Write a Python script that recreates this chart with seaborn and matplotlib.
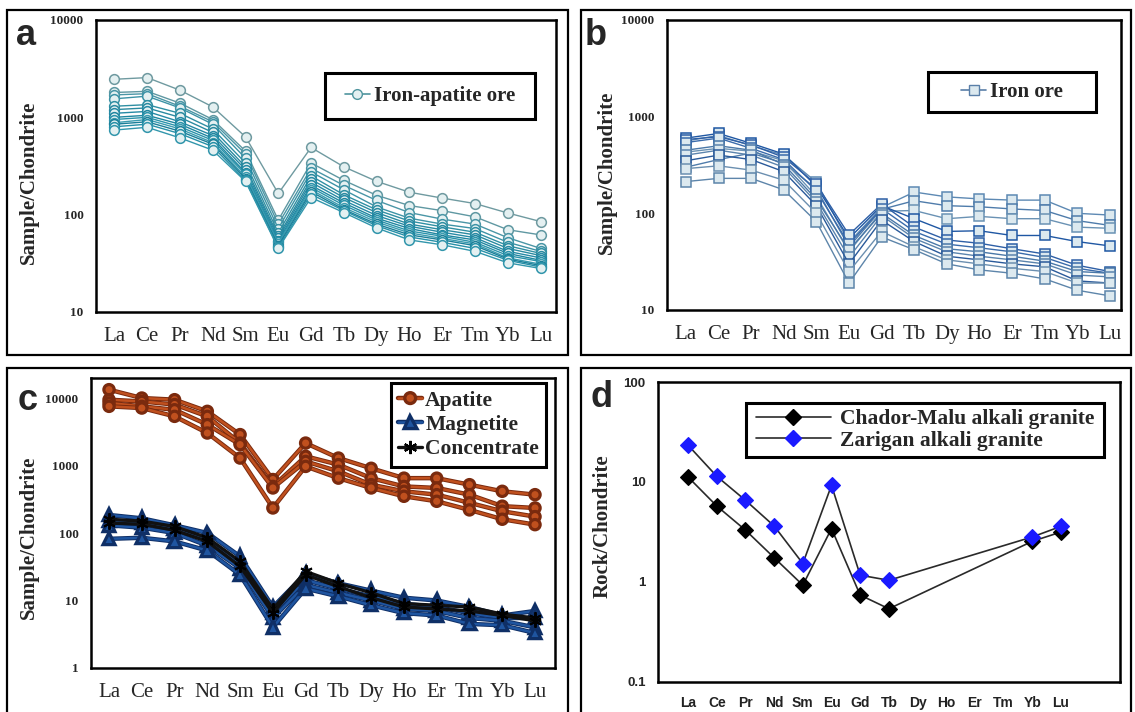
import numpy as np
import pandas as pd
import matplotlib
matplotlib.use("Agg")
import matplotlib.pyplot as plt
import matplotlib.patheffects as pe
from matplotlib.lines import Line2D
from matplotlib.patches import Rectangle
from matplotlib.ticker import NullLocator
import seaborn as sns

ELEMENTS = ["La", "Ce", "Pr", "Nd", "Sm", "Eu", "Gd", "Tb", "Dy", "Ho", "Er", "Tm", "Yb", "Lu"]
nan = np.nan

# a: iron-apatite ore samples
IRON_APATITE_ORE = [
    [2460, 2560, 1900, 1280, 630, 165, 490, 310, 220, 170, 148, 130, 104, 85],
    [1800, 1850, 1400, 950, 450, 88, 340, 225, 158, 124, 110, 95, 70, 62],
    [1700, 1750, 1300, 900, 420, 80, 300, 200, 140, 105, 90, 80, 58, 45],
    [1550, 1650, 1250, 850, 380, 72, 275, 180, 120, 92, 80, 72, 52, 42],
    [1300, 1350, 1100, 760, 340, 65, 250, 160, 112, 86, 75, 66, 48, 40],
    [1200, 1250, 1000, 700, 310, 60, 230, 150, 105, 80, 70, 62, 45, 38],
    [1100, 1150, 900, 650, 290, 57, 215, 140, 98, 76, 66, 58, 42, 36],
    [1000, 1050, 850, 610, 270, 54, 200, 132, 92, 72, 62, 55, 40, 34],
    [950, 1000, 800, 580, 260, 52, 190, 125, 88, 68, 60, 52, 38, 33],
    [880, 950, 760, 550, 245, 50, 180, 118, 84, 65, 57, 50, 36, 31],
    [850, 900, 720, 530, 235, 48, 172, 113, 80, 62, 55, 48, 35, 30],
    [800, 850, 680, 500, 225, 46, 162, 110, 77, 59, 52, 45, 34, 29],
    [740, 790, 615, 460, 220, 45, 150, 105, 73, 55, 49, 42, 32, 28],
]

# b: iron ore samples
IRON_ORE = [
    [560, 640, 500, 400, 210, 50, 115, 166, 148, 141, 137, 137, 100, 96],
    [300, 360, 420, 330, 180, 45, 110, 135, 120, 117, 111, 107, 84, 75],
    [430, 470, 440, 350, 150, 40, 105, 107, 88, 93, 88, 88, 72, 70],
    [600, 670, 530, 410, 190, 55, 120, 88, 65, 66, 59, 59, 51, 46],
    [580, 620, 510, 380, 200, 60, 125, 72, 53, 49, 43, 38, 29, 25],
    [540, 600, 470, 360, 170, 48, 112, 65, 48, 44, 40, 35, 27, 24],
    [450, 500, 450, 320, 140, 42, 100, 59, 43, 40, 36, 32, 25, 24],
    [400, 450, 400, 300, 130, 35, 95, 55, 40, 36, 33, 30, 23, 22],
    [350, 400, 360, 270, 120, 30, 85, 51, 36, 33, 30, 28, 20, 19],
    [290, 310, 280, 220, 100, 25, 65, 45, 33, 30, 27, 25, 19, 19],
    [213, 230, 230, 175, 82, 19, 57, 42, 30, 26, 24, 21, 16, 14],
]

# c: mineral separates
APATITE = [
    [13300, 10000, 9450, 6350, 2870, 620, 2150, 1290, 910, 650, 650, 520, 415, 370],
    [9450, 8900, 8000, 5350, 2150, 490, 1370, 1030, 650, 490, 465, 370, 250, 235],
    [8450, 7530, 6700, 4030, 2040, 465, 1150, 820, 520, 415, 370, 280, 210, 175],
    [7530, 7100, 5350, 3030, 1290, 235, 970, 650, 465, 350, 295, 220, 160, 133],
]
MAGNETITE = [
    [185, 165, 130, 100, 45, 8, 25, 18, 14, 11, 10, 8, 6, 7],
    [150, 140, 115, 80, 35, 6.5, 20, 15, 11.5, 9, 8, 6.5, 5.5, 5.5],
    [130, 120, 100, 65, 30, 5.5, 17, 13, 10, 7.5, 7, 5.5, 5, 4],
    [82, 85, 75, 55, 24, 4, 15, 11.5, 8.5, 6.5, 6, 4.5, 4.3, 3.3],
]
CONCENTRATE = [
    [160, 150, 125, 85, 38, 7.5, 27, 18, 13, 9, 8.5, 8, 6.3, 5.5],
    [140, 135, 110, 75, 32, 6.5, 24, 16, 11, 8, 7.5, 7, 6, 5],
]

# d: granites (Dy-Tm not analysed)
CHADOR_MALU = [11.2, 5.75, 3.3, 1.75, 0.93, 3.42, 0.74, 0.54, nan, nan, nan, nan, 2.55, 3.16]
ZARIGAN = [23.3, 11.4, 6.56, 3.63, 1.53, 9.26, 1.17, 1.04, nan, nan, nan, nan, 2.82, 3.6]

A_COLORS = ["#6f9aa0", "#5f98a2", "#4a96a6", "#3d93a6", "#2f8fa3", "#2a8aa0", "#268aa5",
            "#1f86a0", "#2a93ab", "#3a9bb0", "#1b7f99", "#2690a8", "#3296ac"]
B_COLORS = ["#5d89b3", "#4f7cab", "#6a92b4", "#1f57a3", "#2e5fa6", "#3a6bab",
            "#4a78a8", "#5b84ad", "#2a5a9a", "#6b8fb0", "#5d85aa"]
MINERAL_COLORS = {"Apatite": "#c0501e", "Magnetite": "#1f55a0", "Concentrate": "#111111"}
MINERAL_EDGES = {"Apatite": "#7a2a0e", "Magnetite": "#0f2f66", "Concentrate": "#000000"}
MINERAL_MARKERS = {"Apatite": "o", "Magnetite": "^", "Concentrate": (6, 2, 0)}
MINERAL_MSIZE = {"Apatite": 6.5, "Magnetite": 7.5, "Concentrate": 9}

SERIF = "Liberation Serif"
SANS = "Liberation Sans"
W, H = 1135, 712


def to_long(rows, group):
    recs = []
    for i, row in enumerate(rows):
        for j, v in enumerate(row):
            recs.append({"group": group, "sample": f"{group}-{i}", "pos": j, "value": v})
    return pd.DataFrame(recs).dropna()


def px_axes(left, right, top, bottom):
    return [left / W, 1 - bottom / H, (right - left) / W, (bottom - top) / H]


def outline(name):
    # apatite / magnetite lines have a darker rim in the original
    if name == "Concentrate":
        return []
    return [pe.Stroke(linewidth=3.2, foreground=MINERAL_EDGES[name]), pe.Normal()]


def style_axes(ax, ylim, yticks, xlim, ylabel, label_xy, sans=False):
    ax.set_yscale("log")
    ax.set_ylim(*ylim)
    ax.set_xlim(*xlim)
    ax.yaxis.set_minor_locator(NullLocator())
    fam = SANS if sans else SERIF
    ax.set_yticks(yticks, labels=[f"{t:g}" for t in yticks], fontfamily=fam,
                  fontweight="bold", fontsize=9.5)
    if sans:
        ax.set_xticks(range(len(ELEMENTS)), labels=ELEMENTS, fontfamily=SANS,
                      fontweight="bold", fontsize=10, color="#222222")
    else:
        ax.set_xticks(range(len(ELEMENTS)), labels=ELEMENTS, fontfamily=SERIF, fontsize=15)
    ax.tick_params(axis="y", direction="out", length=7, width=1.5, pad=2)
    ax.tick_params(axis="x", direction="out", length=5, width=1.5, pad=6 if not sans else 5)
    for s in ax.spines.values():
        s.set_visible(True)
        s.set_linewidth(1.8)
        s.set_color("black")
    ax.set_xlabel("")
    ax.set_ylabel(ylabel, fontfamily=SERIF, fontweight="bold", fontsize=15)
    ax.yaxis.label.set_va("center")
    ax.yaxis.set_label_coords(*label_xy)
    ax.grid(False)


def legend_box(ax, box, handles, labels, fontsize, **kw):
    # box drawn by hand so the padding matches the original, entries centred inside
    x0, y0, x1, y1 = box
    ax.add_patch(Rectangle((x0, y0), x1 - x0, y1 - y0, transform=ax.transAxes,
                           facecolor="white", edgecolor="black", linewidth=2.2,
                           zorder=6, clip_on=False))
    leg = ax.legend(handles, labels, loc="center",
                    bbox_to_anchor=((x0 + x1) / 2, (y0 + y1) / 2),
                    prop={"family": SERIF, "weight": "bold", "size": fontsize},
                    frameon=False, borderpad=0, borderaxespad=0, **kw)
    leg.set_zorder(7)
    return leg


def main():
    sns.set_style("white")
    plt.rcParams["font.family"] = [SERIF, "DejaVu Serif"]

    fig = plt.figure(figsize=(W / 100, H / 100), dpi=100)

    # panel frames
    for x0, x1, y0, y1 in [(7, 568, 10, 355), (581, 1131, 10, 355),
                           (7, 568, 368, 720), (581, 1131, 368, 720)]:
        fig.add_artist(Rectangle((x0 / W, 1 - y1 / H), (x1 - x0) / W, (y1 - y0) / H,
                                 transform=fig.transFigure, fill=False,
                                 edgecolor="black", linewidth=1.6))

    ax_a = fig.add_axes(px_axes(96, 556, 20, 312))
    ax_b = fig.add_axes(px_axes(667, 1121, 20, 310))
    ax_c = fig.add_axes(px_axes(91, 555, 378, 668))
    ax_d = fig.add_axes(px_axes(658, 1120, 382, 682))

    # a
    df_a = to_long(IRON_APATITE_ORE, "a")
    sns.lineplot(data=df_a, x="pos", y="value", hue="sample", palette=A_COLORS,
                 estimator=None, sort=False, legend=False, ax=ax_a,
                 marker="o", markersize=7, mfc="#e4f0f1", mew=1.1, lw=1.0)
    for ln in ax_a.lines:
        ln.set_markeredgecolor(ln.get_color())
    style_axes(ax_a, (10, 10000), [10, 100, 1000, 10000], (-0.56, 13.47),
               "Sample/Chondrite", (-0.146, 0.445))
    h = Line2D([], [], color="#4f959e", marker="o", mfc="#e4f0f1", mec="#4f959e",
               markersize=7, lw=1.2)
    legend_box(ax_a, (0.498, 0.661, 0.954, 0.818), [h], ["Iron-apatite ore"], 15,
               handlelength=1.2, handletextpad=0.2)

    # b
    df_b = to_long(IRON_ORE, "b")
    sns.lineplot(data=df_b, x="pos", y="value", hue="sample", palette=B_COLORS,
                 estimator=None, sort=False, legend=False, ax=ax_b,
                 marker="s", markersize=6.5, mfc="#dce9ef", mew=1.1, lw=1.0)
    for ln in ax_b.lines:
        ln.set_markeredgecolor(ln.get_color())
    style_axes(ax_b, (10, 10000), [10, 100, 1000, 10000], (-0.58, 13.34),
               "Sample/Chondrite", (-0.132, 0.476))
    h = Line2D([], [], color="#5a7fa8", marker="s", mfc="#dce9ef", mec="#5a7fa8",
               markersize=6.5, lw=1.2)
    legend_box(ax_b, (0.575, 0.683, 0.945, 0.821), [h], ["Iron ore"], 15,
               handlelength=1.2, handletextpad=0.2)

    # c
    minerals = {"Apatite": APATITE, "Magnetite": MAGNETITE, "Concentrate": CONCENTRATE}
    for name, rows in minerals.items():
        col, edge = MINERAL_COLORS[name], MINERAL_EDGES[name]
        n_before = len(ax_c.lines)
        sns.lineplot(data=to_long(rows, name), x="pos", y="value", units="sample",
                     estimator=None, sort=False, ax=ax_c, color=col,
                     marker=MINERAL_MARKERS[name], markersize=MINERAL_MSIZE[name],
                     mfc=col, mec=edge, mew=1.4, lw=1.8 if name != "Concentrate" else 2.4)
        for ln in ax_c.lines[n_before:]:
            ln.set_path_effects(outline(name))
    style_axes(ax_c, (1, 19800), [1, 10, 100, 1000, 10000], (-0.55, 13.61),
               "Sample/Chondrite", (-0.134, 0.452))
    handles = []
    for k in MINERAL_COLORS:
        hl = Line2D([], [], color=MINERAL_COLORS[k], marker=MINERAL_MARKERS[k],
                    mfc=MINERAL_COLORS[k], mec=MINERAL_EDGES[k],
                    markersize=MINERAL_MSIZE[k] + 0.5, mew=1.6,
                    lw=1.8 if k != "Concentrate" else 2.4)
        hl.set_path_effects(outline(k))
        handles.append(hl)
    legend_box(ax_c, (0.647, 0.693, 0.981, 0.983), handles, list(MINERAL_COLORS), 15.5,
               handlelength=1.1, handletextpad=0.15, labelspacing=0.2)

    # d
    for vals, face in [(CHADOR_MALU, "#000000"), (ZARIGAN, "#1a1aff")]:
        df_d = to_long([vals], "d")
        sns.lineplot(data=df_d, x="pos", y="value", estimator=None, sort=False,
                     ax=ax_d, color="#2a2a2a", lw=1.2, marker="D", markersize=8,
                     mfc=face, mec=face, mew=0.8)
    style_axes(ax_d, (0.1, 100), [0.1, 1, 10, 100], (-1.05, 15.06),
               "Rock/Chondrite", (-0.119, 0.52), sans=True)
    handles = [Line2D([], [], color="#2a2a2a", lw=1.2, marker="D", markersize=8,
                      mfc=f, mec=f) for f in ["#000000", "#1a1aff"]]
    legend_box(ax_d, (0.19, 0.75, 0.965, 0.93), handles,
               ["Chador-Malu alkali granite", "Zarigan alkali granite"], 15.5,
               handlelength=3.5, handletextpad=0.4, labelspacing=0.05)

    # panel letters
    for x, y, t in [(16, 45, "a"), (585, 45, "b"), (18, 410, "c"), (590, 407, "d")]:
        fig.text(x / W, 1 - y / H, t, fontfamily=SANS, fontweight="bold",
                 fontsize=26, ha="left", va="baseline")

    fig.savefig("out.png", dpi=100)


if __name__ == "__main__":
    main()
